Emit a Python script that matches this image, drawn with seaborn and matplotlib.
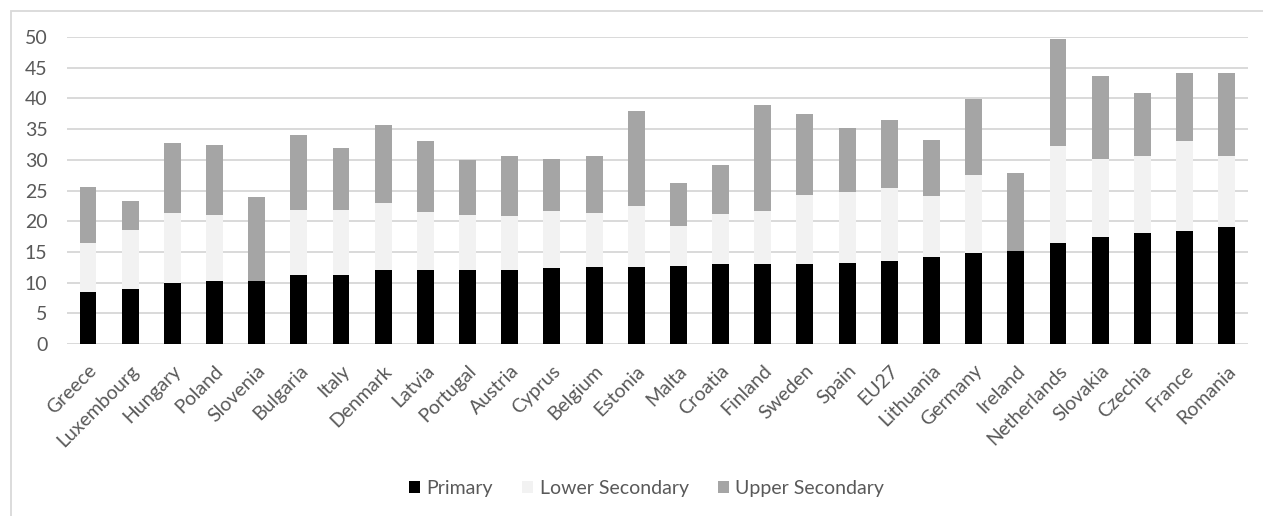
import matplotlib
matplotlib.use("Agg")
import matplotlib.pyplot as plt
from matplotlib.patches import Rectangle, Patch
import seaborn as sns
import pandas as pd
import numpy as np

countries = ["Greece", "Luxembourg", "Hungary", "Poland", "Slovenia", "Bulgaria",
             "Italy", "Denmark", "Latvia", "Portugal", "Austria", "Cyprus",
             "Belgium", "Estonia", "Malta", "Croatia", "Finland", "Sweden",
             "Spain", "EU27", "Lithuania", "Germany", "Ireland", "Netherlands",
             "Slovakia", "Czechia", "France", "Romania"]

primary = [8.4, 9.0, 10.0, 10.2, 10.2, 11.2, 11.2, 12.1, 12.1, 12.1, 12.1, 12.3,
           12.5, 12.5, 12.7, 13.0, 13.0, 13.0, 13.2, 13.6, 14.2, 14.9, 15.1, 16.4,
           17.5, 18.0, 18.4, 19.1]
lower_secondary = [8.0, 9.6, 11.3, 10.8, 0.0, 10.7, 10.7, 10.9, 9.4, 8.9, 8.7, 9.4,
                   8.8, 9.9, 6.6, 8.2, 8.7, 11.3, 11.6, 11.8, 9.9, 12.7, 0.0, 15.8,
                   12.7, 12.6, 14.6, 11.5]
upper_secondary = [9.2, 4.7, 11.5, 11.4, 13.7, 12.2, 10.1, 12.6, 11.5, 8.9, 9.9, 8.5,
                   9.4, 15.5, 7.0, 7.9, 17.2, 13.1, 10.4, 11.1, 9.2, 12.3, 12.7, 17.4,
                   13.5, 10.3, 11.2, 13.5]

series_names = ["Primary", "Lower Secondary", "Upper Secondary"]
series_colors = ["#000000", "#f2f2f2", "#a5a5a5"]

df = pd.DataFrame({
    "country": countries,
    "Primary": primary,
    "Lower Secondary": lower_secondary,
    "Upper Secondary": upper_secondary,
})
# cumulative tops of each stacked segment
df["top_primary"] = df["Primary"]
df["top_lower"] = df["Primary"] + df["Lower Secondary"]
df["top_upper"] = df["top_lower"] + df["Upper Secondary"]

sns.set_theme(style="white")
plt.rcParams["font.family"] = ["Lato", "DejaVu Sans"]

fig = plt.figure(figsize=(12.63, 5.16), dpi=100)
ax = fig.add_axes([0.0530, 0.3333, 0.9349, 0.5950])

text_color = "#595959"
grid_color = "#d9d9d9"

# outer chart frame
fig.patches.append(Rectangle((11 / 1263, -0.1), 1.2, 1 - 11 / 516 + 0.1,
                             transform=fig.transFigure, fill=False,
                             edgecolor=grid_color, linewidth=1.3, zorder=0))

# draw stacked bars back to front
for col, color in zip(["top_upper", "top_lower", "top_primary"],
                      [series_colors[2], series_colors[1], series_colors[0]]):
    sns.barplot(data=df, x="country", y=col, order=countries, color=color,
                width=0.4, linewidth=0, saturation=1, ax=ax, zorder=3)

ax.set_ylim(0, 50)
ax.set_xlim(-0.5, len(countries) - 0.5)
ax.set_yticks(np.arange(0, 51, 5))
ax.yaxis.grid(True, color=grid_color, linewidth=1.4, zorder=0)
ax.xaxis.grid(False)
ax.set_axisbelow(True)
for s in ax.spines.values():
    s.set_visible(False)
ax.set_xlabel("")
ax.set_ylabel("")

ax.tick_params(axis="y", length=0, pad=14, labelsize=14, labelcolor=text_color)
ax.tick_params(axis="x", length=0, pad=13, labelsize=14, labelcolor=text_color)
ax.set_xticks(range(len(countries)))
ax.set_xticklabels(countries, rotation=45, ha="right", rotation_mode="anchor")

handles = [Patch(facecolor=c, edgecolor="none") for c in series_colors]
leg = fig.legend(handles, series_names, loc="center", bbox_to_anchor=(0.512, 0.054),
                 ncol=3, frameon=False, fontsize=14, handlelength=0.55,
                 handleheight=0.55, handletextpad=0.35, columnspacing=1.5)
for t in leg.get_texts():
    t.set_color(text_color)

fig.savefig("out.png", dpi=100)
